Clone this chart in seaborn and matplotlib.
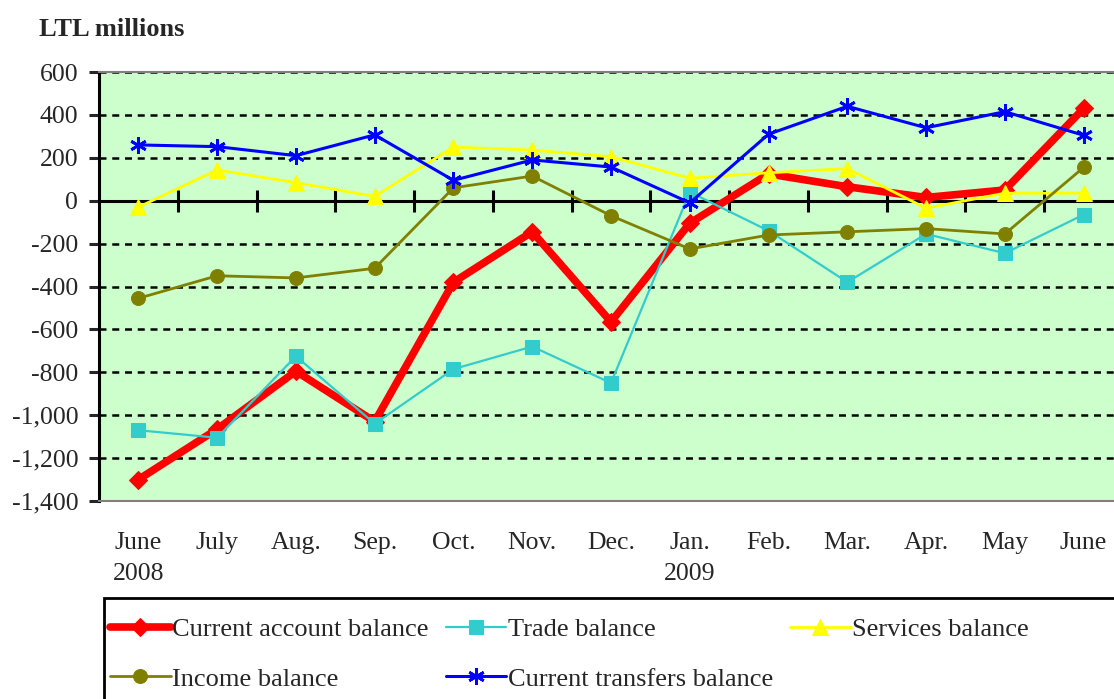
import numpy as np
import matplotlib
matplotlib.use("Agg")
import matplotlib.pyplot as plt
import matplotlib.patches as patches
from matplotlib.ticker import StrMethodFormatter
import seaborn as sns

# monthly balances, LTL millions (June 2008 - June 2009)
months = ["June\n2008", "July", "Aug.", "Sep.", "Oct.", "Nov.", "Dec.",
          "Jan.\n2009", "Feb.", "Mar.", "Apr.", "May", "June"]
current_account = [-1300, -1065, -795, -1030, -380, -145, -565,
                   -105, 125, 65, 15, 50, 430]
trade = [-1070, -1105, -725, -1040, -785, -680, -850,
         40, -140, -380, -155, -245, -65]
services = [-30, 143, 84, 20, 250, 236, 205, 105, 130, 150, -35, 35, 35]
income = [-455, -350, -360, -315, 60, 115, -70, -225, -160, -145, -130, -155, 155]
transfers = [260, 252, 210, 307, 95, 190, 157, -10, 310, 440, 340, 415, 305]

sns.set_style("white")
plt.rcParams["font.family"] = ["Liberation Serif", "DejaVu Serif"]
plt.rcParams["axes.unicode_minus"] = False

fig = plt.figure(figsize=(11.14, 6.99), dpi=100)
ax = fig.add_axes([99 / 1114, 1 - 501 / 699, 1024 / 1114, 429 / 699])
ax.set_facecolor("#CCFFCC")

x = np.arange(len(months))

sns.lineplot(x=x, y=current_account, ax=ax, color="#FF0000", lw=5.5,
             marker="D", markersize=9, mec="#FF0000", mfc="#FF0000",
             label="Current account balance", zorder=3)
sns.lineplot(x=x, y=trade, ax=ax, color="#33CCCC", lw=1.6,
             marker="s", markersize=10, mec="#33CCCC", mfc="#33CCCC",
             label="Trade balance", zorder=4)
sns.lineplot(x=x, y=services, ax=ax, color="#FFFF00", lw=2,
             marker="^", markersize=11, mec="#FFFF00", mfc="#FFFF00",
             label="Services balance", zorder=5)
sns.lineplot(x=x, y=income, ax=ax, color="#808000", lw=2,
             marker="o", markersize=10, mec="#808000", mfc="#808000",
             label="Income balance", zorder=6)
sns.lineplot(x=x, y=transfers, ax=ax, color="#0000FF", lw=2.2,
             marker=(6, 2, 0), markersize=12, mec="#0000FF", mew=2,
             label="Current transfers balance", zorder=7)

ax.set_xlim(-0.5, len(months) - 0.5)
ax.set_ylim(-1400, 600)
ax.set_yticks(np.arange(-1400, 601, 200))
ax.yaxis.set_major_formatter(StrMethodFormatter("{x:,.0f}"))
ax.set_xticks(x)
ax.set_xticklabels(months, linespacing=1.55)
ax.tick_params(axis="x", length=0, pad=22, labelsize=18.5)
ax.tick_params(axis="y", length=7, width=2.2, direction="out", pad=8,
               labelsize=18.5, left=True)

ax.set_axisbelow(True)
ax.yaxis.grid(True, color="black", ls=(0, (2.8, 2.3)), lw=1.8)
ax.xaxis.grid(False)
ax.axhline(0, color="black", lw=2.2, zorder=2)

for side in ["top", "bottom", "right"]:
    ax.spines[side].set_color("#808080")
    ax.spines[side].set_linewidth(1.5)
ax.spines["left"].set_color("black")
ax.spines["left"].set_linewidth(2.2)

# tick marks between months on the zero line
zero_axis = ax.secondary_xaxis(0.7)
zero_axis.set_xticks(np.arange(0.5, len(months) - 1, 1))
zero_axis.set_xticklabels([])
zero_axis.tick_params(direction="inout", length=16, width=2.2, color="black")
for sp in zero_axis.spines.values():
    sp.set_visible(False)

ax.set_xlabel("")
ax.set_ylabel("")
ax.get_legend().remove()

fig.text(39 / 1114, 1 - 29 / 699, "LTL millions", fontsize=19,
         fontweight="bold", ha="left", va="center")

handles, labels = ax.get_legend_handles_labels()
order = [0, 3, 1, 4, 2]
fig.legend([handles[i] for i in order], [labels[i] for i in order],
           loc="upper left", bbox_to_anchor=(102 / 1114, 1 - 610 / 699),
           ncol=3, frameon=False, fontsize=19, handlelength=2.3,
           handletextpad=0.05, columnspacing=0.65, labelspacing=0.98,
           borderpad=0.3, borderaxespad=0)
fig.patches.append(patches.Rectangle((104 / 1114, -0.2), 1, 101 / 699 + 0.2,
                                     transform=fig.transFigure, fill=False,
                                     ec="black", lw=2))

fig.savefig("out.png", dpi=100)
